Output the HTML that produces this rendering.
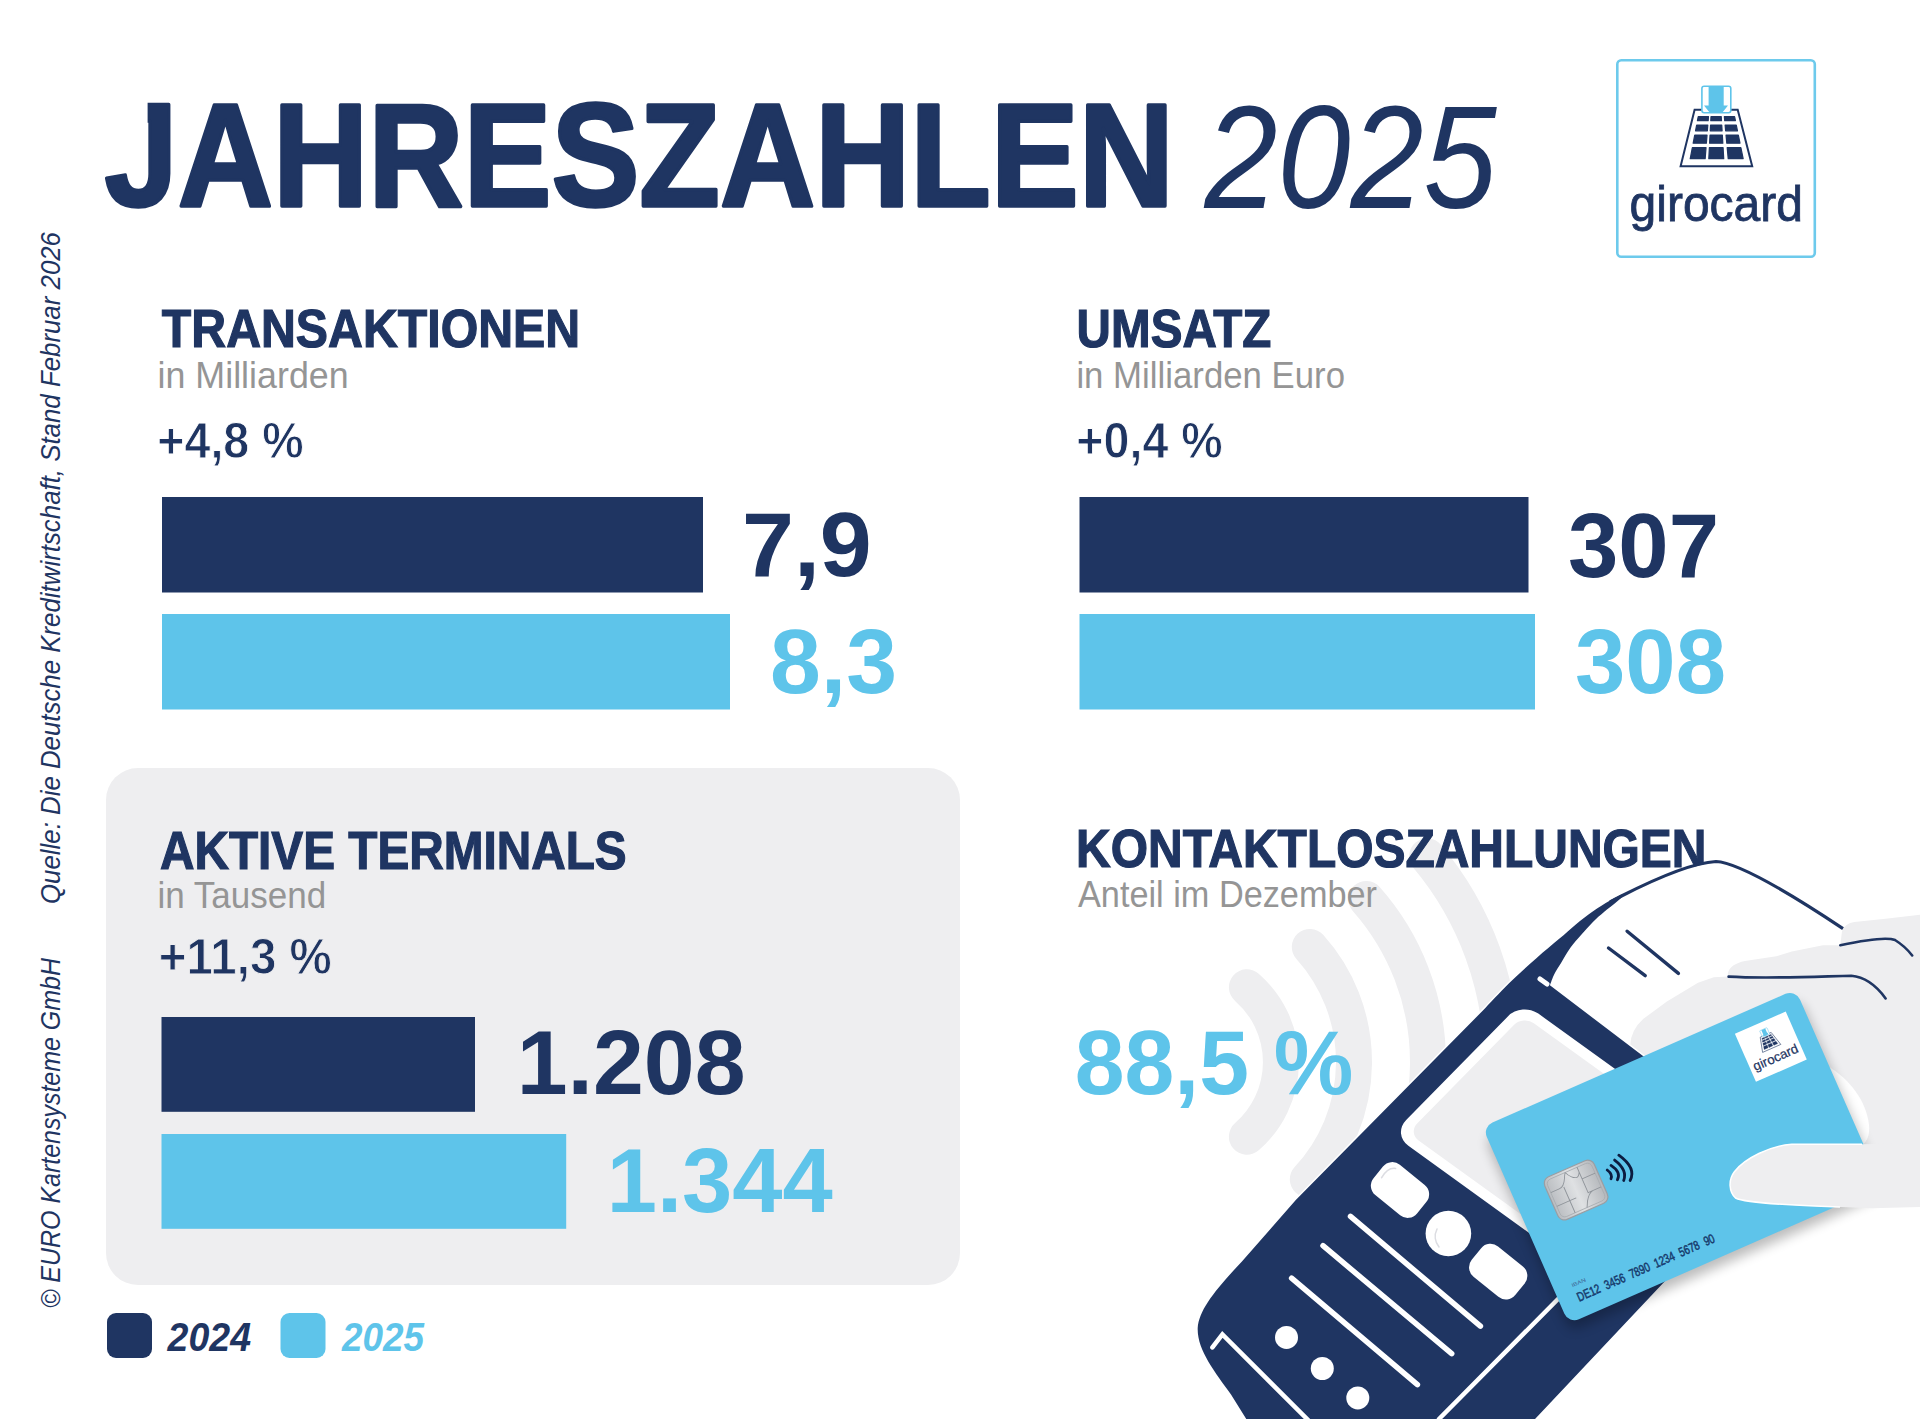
<!DOCTYPE html>
<html><head><meta charset="utf-8"><title>Jahreszahlen 2025</title>
<style>
html,body{margin:0;padding:0;background:#fff;}
body{width:1920px;height:1419px;overflow:hidden;position:relative;font-family:"Liberation Sans", sans-serif;}
svg{position:absolute;left:0;top:0;display:block;}
text{font-family:"Liberation Sans", sans-serif;}
</style></head>
<body>
<svg width="1920" height="1419" viewBox="0 0 1920 1419">
<rect x="106" y="768" width="854" height="517" rx="32" fill="#eeeef0"/>
<rect x="162" y="497" width="541.0" height="95.5" fill="#1f3562"/>
<rect x="162" y="614" width="568.0" height="95.5" fill="#5ec4ea"/>
<rect x="1079.5" y="497" width="449.0" height="95.5" fill="#1f3562"/>
<rect x="1079.5" y="614" width="455.5" height="95.5" fill="#5ec4ea"/>
<rect x="161.5" y="1017" width="313.5" height="94.8" fill="#1f3562"/>
<rect x="161.5" y="1134" width="404.7" height="94.8" fill="#5ec4ea"/>
<rect x="107" y="1313" width="45" height="45" rx="9" fill="#1f3562"/>
<rect x="280.5" y="1313" width="45" height="45" rx="9" fill="#5ec4ea"/>
<path d="M1246.9 987.3 A99 99 0 0 1 1246.9 1136.7 M1309.8 946.9 A172 172 0 0 1 1307.8 1179.3 M1366.2 899.0 A246 246 0 0 1 1361.9 1229.8 M1427.1 856.3 A320 320 0 0 1 1416.0 1280.2" fill="none" stroke="#eeeef0" stroke-width="36" stroke-linecap="round"/>
<text x="104.5" y="205.8" font-size="146.5" font-weight="bold" font-style="normal" fill="#1f3562" textLength="1069.5" lengthAdjust="spacingAndGlyphs" stroke="#1f3562" stroke-width="3.5" stroke-linejoin="round">JAHRESZAHLEN</text>
<text x="1204.5" y="207.5" font-size="146" font-weight="normal" font-style="italic" fill="#1f3562" textLength="292" lengthAdjust="spacingAndGlyphs">2025</text>
<rect x="124" y="97" width="23.6" height="28" fill="#fff"/>
<text x="161.8" y="347.1" font-size="54.5" font-weight="bold" font-style="normal" fill="#1f3562" textLength="418.3" lengthAdjust="spacingAndGlyphs" stroke="#1f3562" stroke-width="1.2">TRANSAKTIONEN</text>
<text x="157.5" y="387.6" font-size="37.5" font-weight="normal" font-style="normal" fill="#959595" textLength="191.2" lengthAdjust="spacingAndGlyphs">in Milliarden</text>
<text x="157.3" y="457.6" font-size="50" font-weight="bold" font-style="normal" fill="#1f3562" textLength="146.3" lengthAdjust="spacingAndGlyphs" stroke="#fff" stroke-width="0.9">+4,8 %</text>
<text x="742" y="576.2" font-size="90.4" font-weight="bold" font-style="normal" fill="#1f3562" textLength="129.8" lengthAdjust="spacingAndGlyphs">7,9</text>
<text x="770" y="693.4" font-size="90.4" font-weight="bold" font-style="normal" fill="#5ec4ea" textLength="127" lengthAdjust="spacingAndGlyphs">8,3</text>
<text x="1076.6" y="347.1" font-size="54.5" font-weight="bold" font-style="normal" fill="#1f3562" textLength="194.8" lengthAdjust="spacingAndGlyphs" stroke="#1f3562" stroke-width="1.2">UMSATZ</text>
<text x="1076.4" y="387.6" font-size="37.5" font-weight="normal" font-style="normal" fill="#959595" textLength="268.6" lengthAdjust="spacingAndGlyphs">in Milliarden Euro</text>
<text x="1076.3" y="457.9" font-size="50" font-weight="bold" font-style="normal" fill="#1f3562" textLength="146.4" lengthAdjust="spacingAndGlyphs" stroke="#fff" stroke-width="0.9">+0,4 %</text>
<text x="1568" y="576.5" font-size="90.4" font-weight="bold" font-style="normal" fill="#1f3562" textLength="151" lengthAdjust="spacingAndGlyphs">307</text>
<text x="1575" y="693.4" font-size="90.4" font-weight="bold" font-style="normal" fill="#5ec4ea" textLength="151" lengthAdjust="spacingAndGlyphs">308</text>
<text x="160" y="868.6" font-size="54.5" font-weight="bold" font-style="normal" fill="#1f3562" textLength="466.7" lengthAdjust="spacingAndGlyphs" stroke="#1f3562" stroke-width="1.2">AKTIVE TERMINALS</text>
<text x="157.4" y="908.2" font-size="37.5" font-weight="normal" font-style="normal" fill="#959595" textLength="168.8" lengthAdjust="spacingAndGlyphs">in Tausend</text>
<text x="158.8" y="974.3" font-size="50" font-weight="bold" font-style="normal" fill="#1f3562" textLength="172.9" lengthAdjust="spacingAndGlyphs" stroke="#eeeef0" stroke-width="0.9">+11,3 %</text>
<text x="516.7" y="1094" font-size="90.4" font-weight="bold" font-style="normal" fill="#1f3562" textLength="228.9" lengthAdjust="spacingAndGlyphs">1.208</text>
<text x="606.8" y="1211.8" font-size="90.4" font-weight="bold" font-style="normal" fill="#5ec4ea" textLength="225.9" lengthAdjust="spacingAndGlyphs">1.344</text>
<text x="1076.1" y="867.4" font-size="54.5" font-weight="bold" font-style="normal" fill="#1f3562" textLength="630.3" lengthAdjust="spacingAndGlyphs" stroke="#1f3562" stroke-width="1.2">KONTAKTLOSZAHLUNGEN</text>
<text x="1078" y="907" font-size="37.5" font-weight="normal" font-style="normal" fill="#959595" textLength="299" lengthAdjust="spacingAndGlyphs">Anteil im Dezember</text>
<text x="1074.8" y="1094" font-size="90.4" font-weight="bold" font-style="normal" fill="#5ec4ea" textLength="278.6" lengthAdjust="spacingAndGlyphs">88,5 %</text>
<text x="167.5" y="1351.3" font-size="40" font-weight="bold" font-style="italic" fill="#1f3562" textLength="83.5" lengthAdjust="spacingAndGlyphs">2024</text>
<text x="342" y="1351.3" font-size="40" font-weight="bold" font-style="italic" fill="#5ec4ea" textLength="82" lengthAdjust="spacingAndGlyphs">2025</text>
<g transform="translate(60,904) rotate(-90)"><text x="0" y="0" font-size="27.5" font-weight="normal" font-style="italic" fill="#1f3562" textLength="672" lengthAdjust="spacingAndGlyphs">Quelle: Die Deutsche Kreditwirtschaft, Stand Februar 2026</text></g>
<g transform="translate(60,1308) rotate(-90)"><text x="0" y="0" font-size="27.5" font-weight="normal" font-style="italic" fill="#1f3562" textLength="350" lengthAdjust="spacingAndGlyphs">© EURO Kartensysteme GmbH</text></g>
<g transform="translate(1616,59)"><rect x="1.3" y="1.3" width="197.5" height="196.5" rx="4" fill="#fff" stroke="#6dcaec" stroke-width="2.6"/><path d="M78.6 50.7 H121.7 L136.2 107.3 H64.6 Z" fill="#fff" stroke="#1f3562" stroke-width="2"/><path d="M82.25 57.50 L92.49 57.50 L92.16 61.70 L81.45 61.70 Z" fill="#1f3562" stroke="#1f3562" stroke-width="1.2" stroke-linejoin="round"/><path d="M95.00 57.50 L105.24 57.50 L105.49 61.70 L94.78 61.70 Z" fill="#1f3562" stroke="#1f3562" stroke-width="1.2" stroke-linejoin="round"/><path d="M108.32 57.50 L118.57 57.50 L119.42 61.70 L108.71 61.70 Z" fill="#1f3562" stroke="#1f3562" stroke-width="1.2" stroke-linejoin="round"/><path d="M80.64 66.00 L91.82 66.00 L91.36 71.80 L79.54 71.80 Z" fill="#1f3562" stroke="#1f3562" stroke-width="1.2" stroke-linejoin="round"/><path d="M94.56 66.00 L105.74 66.00 L106.09 71.80 L94.26 71.80 Z" fill="#1f3562" stroke="#1f3562" stroke-width="1.2" stroke-linejoin="round"/><path d="M109.11 66.00 L120.29 66.00 L121.47 71.80 L109.64 71.80 Z" fill="#1f3562" stroke="#1f3562" stroke-width="1.2" stroke-linejoin="round"/><path d="M78.72 76.10 L91.02 76.10 L90.38 84.20 L77.18 84.20 Z" fill="#1f3562" stroke="#1f3562" stroke-width="1.2" stroke-linejoin="round"/><path d="M94.03 76.10 L106.34 76.10 L106.82 84.20 L93.61 84.20 Z" fill="#1f3562" stroke="#1f3562" stroke-width="1.2" stroke-linejoin="round"/><path d="M110.04 76.10 L122.34 76.10 L123.99 84.20 L110.79 84.20 Z" fill="#1f3562" stroke="#1f3562" stroke-width="1.2" stroke-linejoin="round"/><path d="M76.36 88.50 L90.04 88.50 L89.16 99.70 L74.24 99.70 Z" fill="#1f3562" stroke="#1f3562" stroke-width="1.2" stroke-linejoin="round"/><path d="M93.39 88.50 L107.07 88.50 L107.73 99.70 L92.81 99.70 Z" fill="#1f3562" stroke="#1f3562" stroke-width="1.2" stroke-linejoin="round"/><path d="M111.18 88.50 L124.86 88.50 L127.14 99.70 L112.22 99.70 Z" fill="#1f3562" stroke="#1f3562" stroke-width="1.2" stroke-linejoin="round"/><rect x="85.9" y="27.3" width="28.9" height="26.4" rx="2.2" fill="#fff" stroke="#5ec4ea" stroke-width="1.6"/><path d="M92.6 28 H107.7 V46.4 H112 L106 54 H94 L88 46.4 H92.6 Z" fill="#5ec4ea"/><text x="13.6" y="161.5" font-size="49.5" font-weight="normal" font-style="normal" fill="#1f3562" textLength="173.4" lengthAdjust="spacingAndGlyphs" stroke="#1f3562" stroke-width="0.8">girocard</text></g>
<path d="M1621 897 C1650 883, 1690 865, 1716 862 C1740 864, 1800 902, 1846 932 L1846 1010 L1640 1055 L1549.9 985.3 C1550.7 983.4 1552.5 977.8 1554.4 974.0 C1556.3 970.2 1558.6 967.0 1561.2 962.7 C1563.8 958.4 1566.8 952.8 1570.2 948.1 C1573.6 943.4 1577.8 938.9 1581.5 934.6 C1585.2 930.3 1589.0 926.0 1592.7 922.2 C1596.5 918.4 1600.2 915.2 1604.0 912.0 C1607.8 908.8 1612.4 905.4 1615.3 903.0 C1618.2 900.6 1620.5 898.4 1621.5 897.5 Z" fill="#fff"/>
<path d="M1608.5 948 L1645.2 975.7 M1627.1 931.2 L1678.4 973.4" stroke="#1f3562" stroke-width="3.4" stroke-linecap="round"/>
<path d="M1920 914.8 L1885.6 918.8 L1854.4 921.9 Q1845 923 1842 931.3 L1840.3 945.3 L1823 945.3 L1791.9 951.6 L1776.3 956.3 L1745 961 Q1730 964 1727.8 973.4 L1728.6 976.6 L1713.8 977.3 L1698 982.8 L1666.9 1001.6 L1643.4 1018.8 Q1631 1030 1630.2 1045 L1640 1100 L1850 1206 L1920 1205.5 Z" fill="#eeeef0"/>
<path d="M1840.3 945.3 C1860 941, 1885 936, 1895 940 C1903 945, 1908 950, 1912.2 955.5 M1728.6 976.6 C1770 979, 1830 976, 1851.3 975.8 C1866 977, 1878 988, 1885.6 998.4" fill="none" stroke="#1f3562" stroke-width="2.6" stroke-linecap="round"/>
<path d="M1621.5 894.5 C1619.5 895.5 1614.4 897.9 1609.6 900.7 C1604.8 903.5 1598.3 907.5 1592.7 911.4 C1587.1 915.3 1581.4 919.8 1575.8 924.4 C1570.2 929.0 1565.5 933.5 1558.9 939.1 C1552.3 944.7 1544.7 950.9 1536.4 958.2 C1528.1 965.5 1518.1 974.4 1509.3 983.0 C1500.5 991.6 1487.7 1005.5 1483.4 1010.0 L1295.8 1200 L1241.7 1261.7 C1215 1290, 1199 1310, 1197.7 1328 C1197 1350, 1215 1372, 1231 1394.5 L1250 1425 L1529.4 1425 L1661.3 1285 L1780 1160 L1549.9 985.3 C1550.7 983.4 1552.5 977.8 1554.4 974.0 C1556.3 970.2 1558.6 967.0 1561.2 962.7 C1563.8 958.4 1566.8 952.8 1570.2 948.1 C1573.6 943.4 1577.8 938.9 1581.5 934.6 C1585.2 930.3 1589.0 926.0 1592.7 922.2 C1596.5 918.4 1600.2 915.2 1604.0 912.0 C1607.8 908.8 1612.4 905.4 1615.3 903.0 C1618.2 900.6 1620.5 898.4 1621.5 897.5 Z" fill="#1f3562" stroke="#fff" stroke-width="3" paint-order="stroke" stroke-linejoin="round"/>
<path d="M1610 902 L1621.5 896 C1650 881.5, 1690 863, 1716 861.5 C1740 862.5, 1800 900, 1843 928.6" fill="none" stroke="#1f3562" stroke-width="3.2"/>
<path d="M1540 979 L1547 984" stroke="#fff" stroke-width="5" stroke-linecap="round"/>
<g transform="matrix(0.8111 0.5850 -0.7009 0.7133 1522.1 1001.9)"><rect x="0" y="0" width="260" height="185.4" rx="20" fill="#fff"/><rect x="10.5" y="10.5" width="239" height="164.4" rx="13" fill="#eeeef0"/></g>
<g fill="#fff"><rect x="-28" y="-19.5" width="56" height="39" rx="12" transform="translate(1400,1190) rotate(39)"/><circle cx="1448.4" cy="1233.5" r="22.8"/><rect x="-28" y="-19.5" width="56" height="39" rx="12" transform="translate(1498.2,1271.6) rotate(39)"/></g>
<g fill="none" stroke="#dcdde2" stroke-width="1.6" stroke-linecap="round"><path d="M-17 -14 C-22 -11 -23 -4 -22 2" transform="translate(1400,1190) rotate(39)"/><path d="M1437 1229 C1434 1235 1435 1242 1439 1247"/></g>
<path d="M1350.5 1216.4 L1480.4 1326.2 M1323 1245.7 L1451.7 1353.7 M1291.6 1278.2 L1417.4 1384.6" stroke="#fff" stroke-width="5.5" stroke-linecap="round"/>
<g fill="#fff"><circle cx="1286.5" cy="1337.4" r="11.5"/><circle cx="1322.3" cy="1368.5" r="11.5"/><circle cx="1357.8" cy="1397.9" r="11.5"/></g>
<path d="M1212.4 1347.4 L1222.4 1334.3 L1320 1432 M1439 1419 L1565 1292" fill="none" stroke="#fff" stroke-width="4.5" stroke-linejoin="miter" stroke-linecap="round"/>
<path d="M1828 1066 C1850 1080, 1866 1100, 1869 1125 C1870 1135, 1867 1141, 1862 1146 L1840 1146 Z" fill="#fff"/>
<defs><filter id="sh" x="-20%" y="-20%" width="140%" height="140%"><feGaussianBlur stdDeviation="6"/></filter></defs>
<g transform="translate(1482.4,1126.9) rotate(-23.7)"><rect x="-2" y="11" width="344" height="212" rx="11" fill="#000" opacity="0.26" filter="url(#sh)"/><rect x="0" y="0" width="342" height="215" rx="11" fill="#5ec4ea"/><defs><linearGradient id="chipg" x1="0" y1="0" x2="1" y2="0"><stop offset="0" stop-color="#b9bcc0"/><stop offset="0.5" stop-color="#dfe1e3"/><stop offset="1" stop-color="#b4b7bb"/></linearGradient></defs><g transform="translate(33.4,72.2)"><rect x="0" y="0" width="54" height="46.5" rx="7" fill="url(#chipg)" stroke="#9a9ea3" stroke-width="1.2"/><rect x="2.8" y="2.8" width="48.4" height="40.9" rx="5" fill="none" stroke="#a9adb2" stroke-width="0.8"/><path d="M2.8 15.5 H12 C16 15.5 19 12 21 8 C22 6 23 4 24 2.8 M2.8 30.5 H17 M17 15.5 V43.7 M37 2.8 V31 M37 15.5 H51.2 M37 30.5 H51.2 M51.2 30.5 M42 30.5 C38 31 35 35 33 38 C32 40 31 42 30 43.7 M17 30.5 H24 M24 2.8 C26 8 30 12 33 12 C35 12 36 10 37 8" fill="none" stroke="#8f949a" stroke-width="0.9"/></g><text x="18" y="183" font-size="5.2" font-weight="normal" font-style="normal" fill="#3d5f8f" textLength="15" lengthAdjust="spacingAndGlyphs">IBAN</text><text x="18.5" y="199" font-size="12.9" font-weight="normal" font-style="normal" fill="#173a6c" textLength="149" lengthAdjust="spacingAndGlyphs" stroke="#173a6c" stroke-width="0.5" word-spacing="3.8">DE12 3456 7890 1234 5678 90</text><g transform="translate(268.6,16.3) scale(0.2775 0.262)"><rect x="0" y="0" width="200" height="200" fill="#fff"/><path d="M78.6 50.7 H121.7 L136.2 107.3 H64.6 Z" fill="#fff" stroke="#1f3562" stroke-width="2"/><path d="M82.25 57.50 L92.49 57.50 L92.16 61.70 L81.45 61.70 Z" fill="#1f3562" stroke="#1f3562" stroke-width="1.2" stroke-linejoin="round"/><path d="M95.00 57.50 L105.24 57.50 L105.49 61.70 L94.78 61.70 Z" fill="#1f3562" stroke="#1f3562" stroke-width="1.2" stroke-linejoin="round"/><path d="M108.32 57.50 L118.57 57.50 L119.42 61.70 L108.71 61.70 Z" fill="#1f3562" stroke="#1f3562" stroke-width="1.2" stroke-linejoin="round"/><path d="M80.64 66.00 L91.82 66.00 L91.36 71.80 L79.54 71.80 Z" fill="#1f3562" stroke="#1f3562" stroke-width="1.2" stroke-linejoin="round"/><path d="M94.56 66.00 L105.74 66.00 L106.09 71.80 L94.26 71.80 Z" fill="#1f3562" stroke="#1f3562" stroke-width="1.2" stroke-linejoin="round"/><path d="M109.11 66.00 L120.29 66.00 L121.47 71.80 L109.64 71.80 Z" fill="#1f3562" stroke="#1f3562" stroke-width="1.2" stroke-linejoin="round"/><path d="M78.72 76.10 L91.02 76.10 L90.38 84.20 L77.18 84.20 Z" fill="#1f3562" stroke="#1f3562" stroke-width="1.2" stroke-linejoin="round"/><path d="M94.03 76.10 L106.34 76.10 L106.82 84.20 L93.61 84.20 Z" fill="#1f3562" stroke="#1f3562" stroke-width="1.2" stroke-linejoin="round"/><path d="M110.04 76.10 L122.34 76.10 L123.99 84.20 L110.79 84.20 Z" fill="#1f3562" stroke="#1f3562" stroke-width="1.2" stroke-linejoin="round"/><path d="M76.36 88.50 L90.04 88.50 L89.16 99.70 L74.24 99.70 Z" fill="#1f3562" stroke="#1f3562" stroke-width="1.2" stroke-linejoin="round"/><path d="M93.39 88.50 L107.07 88.50 L107.73 99.70 L92.81 99.70 Z" fill="#1f3562" stroke="#1f3562" stroke-width="1.2" stroke-linejoin="round"/><path d="M111.18 88.50 L124.86 88.50 L127.14 99.70 L112.22 99.70 Z" fill="#1f3562" stroke="#1f3562" stroke-width="1.2" stroke-linejoin="round"/><rect x="85.9" y="27.3" width="28.9" height="26.4" rx="2.2" fill="#fff" stroke="#5ec4ea" stroke-width="1.6"/><path d="M92.6 28 H107.7 V46.4 H112 L106 54 H94 L88 46.4 H92.6 Z" fill="#5ec4ea"/><text x="13.6" y="161.5" font-size="49.5" font-weight="normal" font-style="normal" fill="#1f3562" textLength="173.4" lengthAdjust="spacingAndGlyphs" stroke="#1f3562" stroke-width="0.8">girocard</text></g></g>
<path d="M1607.2 1170 Q1612.9 1174.4 1611 1178.8 M1611 1165.4 Q1621.4 1172.2 1617.4 1179.8 M1614.6 1160.1 Q1627.7 1170 1623.7 1180.5 M1618.8 1155.2 Q1636.8 1168.2 1630.1 1180.5" fill="none" stroke="#0c1c40" stroke-width="2.8" stroke-linecap="round"/>
<path d="M1920 1143 L1861.6 1144.2 L1791.7 1144.2 C1770 1146, 1745 1158, 1734.4 1171.7 C1728 1180, 1729 1192, 1735.5 1198 C1745 1203, 1790 1205, 1814.6 1206 L1871.9 1208.3 L1920 1207 Z" fill="#eeeef0"/>
<path d="M1862 1144.2 L1791.7 1144.2 C1770 1146, 1745 1158, 1734.4 1171.7 C1728 1180, 1729 1192, 1735.5 1198 C1745 1203, 1790 1205, 1814.6 1206 L1840 1207" fill="none" stroke="#fff" stroke-width="1.5"/>
</svg>
</body></html>
